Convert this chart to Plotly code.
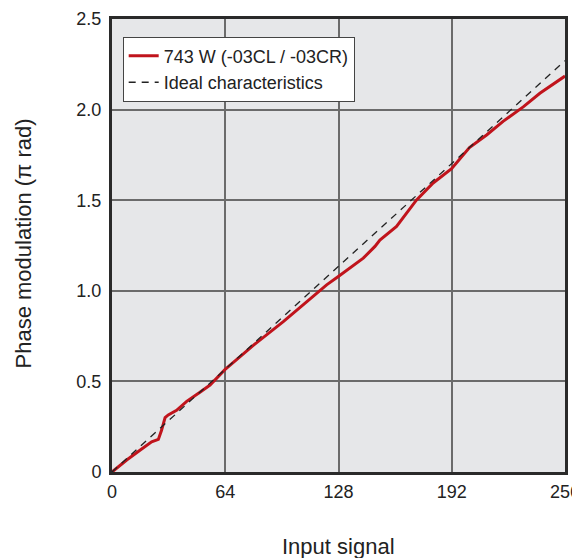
import plotly.graph_objects as go

# Measured characteristic (input signal vs phase modulation in pi rad)
signal_x = [0, 8.3, 15.8, 22.4, 26.2, 28, 30, 31.8, 36.5, 42.2, 49.7, 55.4, 63.8,
            80, 96.8, 115.6, 121.3, 127.9, 142, 148.6, 151.4, 160.8, 172, 181.5, 191.9,
            202, 211.7, 221, 232.4, 241.8, 256]
phase_y = [0, 0.066, 0.12, 0.167, 0.18, 0.23, 0.30, 0.315, 0.34, 0.39, 0.44, 0.48, 0.565,
           0.70, 0.83, 0.99, 1.033, 1.079, 1.18, 1.245, 1.28, 1.355, 1.50, 1.595, 1.674,
           1.79, 1.86, 1.935, 2.015, 2.09, 2.185]

ideal_x = [0, 256]
ideal_y = [0, 2.27]

x_ticks = [0, 64, 128, 192, 256]
y_ticks = [0, 0.5, 1.0, 1.5, 2.0, 2.5]
y_tick_text = ["0", "0.5", "1.0", "1.5", "2.0", "2.5"]

FONT = "Liberation Sans, Arial, Helvetica, sans-serif"
TXT = "#222222"

fig = go.Figure()
fig.add_trace(go.Scatter(x=signal_x, y=phase_y, mode="lines",
                         name="743 W (-03CL / -03CR)",
                         line=dict(color="#c0141c", width=3)))
fig.add_trace(go.Scatter(x=ideal_x, y=ideal_y, mode="lines",
                         name="Ideal characteristics",
                         line=dict(color="#222222", width=1.3, dash="7px,6px")))

fig.update_layout(
    width=580, height=550,
    margin=dict(l=104, r=23, t=11, b=86),
    paper_bgcolor="white",
    plot_bgcolor="#e6e7e9",
    font=dict(family=FONT, size=18, color=TXT),
    showlegend=True,
    legend=dict(x=0.0236, y=0.961, xanchor="left", yanchor="top",
                bgcolor="white", bordercolor="#444444", borderwidth=1,
                font=dict(size=18, family=FONT, color=TXT),
                tracegroupgap=0, itemwidth=30),
    xaxis=dict(range=[0, 256], tickvals=x_ticks, ticks="", automargin=False,
               ticklabeloverflow="allow",
               showgrid=True, gridcolor="#6b6b6b", gridwidth=1.5,
               showline=True, mirror=True, linecolor="#2a2a2a", linewidth=3,
               zeroline=False, tickfont=dict(size=18), ticklabelstandoff=1),
    yaxis=dict(range=[0, 2.5], tickvals=y_ticks, ticktext=y_tick_text, ticks="",
               automargin=False, ticklabeloverflow="allow",
               showgrid=True, gridcolor="#6b6b6b", gridwidth=1.5,
               showline=True, mirror=True, linecolor="#2a2a2a", linewidth=3,
               zeroline=False, tickfont=dict(size=18), ticklabelstandoff=4),
    annotations=[
        dict(text="Input signal", xref="paper", yref="paper", x=0.5, y=-0.165,
             xanchor="center", yanchor="middle", showarrow=False,
             font=dict(size=22, family=FONT, color=TXT)),
        dict(text="Phase modulation (π rad)", xref="paper", yref="paper",
             x=-0.196, y=0.505, xanchor="center", yanchor="middle", textangle=-90,
             showarrow=False, font=dict(size=22, family=FONT, color=TXT)),
    ],
)

fig.write_html("out.html")
